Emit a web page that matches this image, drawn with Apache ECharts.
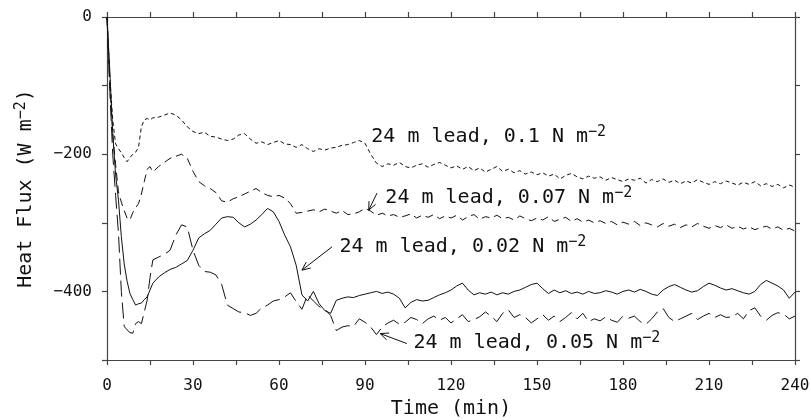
<!DOCTYPE html>
<html>
<head>
<meta charset="utf-8">
<script src="https://cdn.jsdelivr.net/npm/echarts@6/dist/echarts.min.js"></script>
<style>html,body{margin:0;padding:0;background:#fff}#c{width:811px;height:420px}</style>
</head>
<body>
<div id="c"></div>
<script>
const times = [0,1,2,3,4,5,6,7,8,9,10,11,12,13,14,15,16,
18,20,22,24,26,28,30,32,34,36,38,40,42,44,46,48,50,52,54,56,58,60,
62,64,66,68,70,72,74,76,78,80,82,84,86,88,90,92,94,96,98,100,
102,104,106,108,110,112,114,116,118,120,122,124,126,128,130,132,134,136,138,140,
142,144,146,148,150,152,154,156,158,160,162,164,166,168,170,172,174,176,178,180,
182,184,186,188,190,192,194,196,198,200,202,204,206,208,210,212,214,216,218,220,
222,224,226,228,230,232,234,236,238,240];

// 24 m lead, 0.1 N m-2
const flux010 = [0,-90,-150,-185,-192,-198,-205,-211,-205,-200,-197,-190,-160,-150,-148,-150,-147,
-146,-143,-140,-143,-150,-160,-167,-170,-168,-174,-175,-178,-180,-178,-172,-170,-178,-184,-182,-186,-183,-180,
-185,-186,-190,-186,-192,-196,-192,-194,-191,-190,-187,-186,-183,-180,-184,-200,-213,-218,-214,-216,
-212,-218,-220,-216,-214,-219,-215,-212,-216,-220,-217,-222,-218,-224,-220,-226,-222,-218,-225,-222,
-227,-224,-229,-226,-230,-227,-232,-229,-236,-231,-228,-233,-236,-232,-235,-233,-238,-234,-237,-240,
-236,-238,-235,-242,-237,-240,-236,-241,-238,-243,-239,-242,-237,-241,-244,-240,-243,-239,-242,-245,
-241,-244,-240,-246,-243,-247,-244,-249,-245,-248];

// 24 m lead, 0.07 N m-2
const flux007 = [0,-100,-170,-215,-255,-270,-282,-293,-296,-285,-278,-272,-258,-240,-222,-218,-226,
-218,-212,-206,-203,-200,-206,-225,-240,-246,-250,-256,-268,-270,-265,-262,-258,-254,-250,-256,-260,-262,-260,
-264,-272,-286,-285,-283,-281,-284,-280,-283,-286,-282,-288,-287,-284,-279,-283,-289,-286,-290,-288,
-292,-290,-287,-293,-289,-292,-288,-294,-290,-293,-289,-296,-291,-288,-295,-291,-293,-289,-294,-292,
-296,-290,-294,-297,-293,-296,-291,-298,-295,-292,-298,-294,-299,-296,-300,-297,-301,-298,-303,-299,
-302,-298,-304,-300,-303,-306,-301,-305,-302,-307,-303,-306,-301,-305,-308,-304,-307,-303,-308,-305,
-309,-306,-310,-307,-305,-309,-306,-311,-308,-312];

// 24 m lead, 0.02 N m-2
const flux002 = [0,-80,-170,-230,-267,-320,-360,-385,-403,-412,-420,-418,-417,-412,-408,-398,-388,
-379,-373,-368,-365,-360,-355,-340,-322,-316,-311,-302,-293,-291,-292,-300,-306,-302,-296,-288,-279,-284,-298,
-318,-335,-362,-405,-414,-400,-418,-428,-432,-413,-410,-408,-409,-406,-404,-402,-400,-403,-401,-404,
-410,-424,-416,-412,-414,-413,-409,-405,-402,-398,-392,-388,-398,-405,-402,-404,-401,-405,-402,-404,
-400,-398,-394,-390,-388,-396,-403,-398,-402,-399,-403,-401,-404,-400,-403,-402,-399,-401,-404,-400,
-398,-401,-397,-400,-404,-406,-398,-393,-390,-394,-398,-401,-399,-393,-388,-391,-395,-398,-396,-399,
-402,-404,-400,-390,-384,-388,-392,-398,-410,-401];

// 24 m lead, 0.05 N m-2
const flux005 = [0,-110,-200,-260,-315,-400,-451,-456,-460,-461,-447,-444,-447,-430,-413,-380,-354,
-350,-346,-340,-318,-303,-306,-340,-362,-371,-372,-376,-390,-420,-425,-430,-431,-435,-432,-424,-420,-414,-412,
-408,-402,-415,-426,-405,-414,-422,-426,-435,-457,-452,-450,-451,-440,-445,-452,-463,-452,-446,-442,
-448,-445,-438,-441,-447,-440,-436,-442,-438,-446,-440,-434,-444,-441,-437,-430,-436,-444,-432,-427,
-438,-434,-438,-446,-440,-434,-442,-436,-444,-438,-431,-440,-432,-444,-440,-443,-437,-442,-445,-436,
-439,-436,-444,-448,-440,-430,-425,-438,-444,-440,-436,-432,-441,-436,-432,-438,-434,-438,-437,-432,
-440,-428,-424,-436,-442,-435,-431,-433,-440,-436];

const xTicks = [0,30,60,90,120,150,180,210,240];
const yTicks = [0,-200,-400];

// annotations: label text, label anchor (data coords), optional arrow from/to (data coords)
const annLabels = ['24 m lead, 0.1 N m', '24 m lead, 0.07 N m', '24 m lead, 0.02 N m', '24 m lead, 0.05 N m'];
const annAt = [[92.2,-175],[97.1,-264],[81.1,-334.5],[106.9,-475]];
const annArrowFrom = [null,[94.2,-256.6],[78.5,-335],[104.6,-476]];
const annArrowTo = [null,[91.3,-281.5],[68,-369],[95.3,-461.5]];

const MONO = "'DejaVu Sans Mono', monospace";
const INK = '#111';
const AXIS = '#444';

const chart = echarts.init(document.getElementById('c'), null, {renderer:'canvas'});

function mk(arr){ return times.map((t,i)=>[t, arr[i]]); }

const lineBase = {type:'line', showSymbol:false, symbol:'none', animation:false, smooth:false, z:3};

const supRich = {
  m:{fontFamily:MONO, fontSize:20, color:INK, lineHeight:24},
  s:{fontFamily:MONO, fontSize:15, color:INK, lineHeight:15, verticalAlign:'top'}
};

const axisCommon = {
  axisLine:{show:true, onZero:false, lineStyle:{color:AXIS, width:1.2}},
  axisTick:{show:true, inside:false, length:5, lineStyle:{color:AXIS, width:1.2}},
  splitLine:{show:false}
};

function renderAnn(params, api){
  const i = api.value(0);
  const p = api.coord(annAt[i]);
  const children = [{
    type:'text',
    x:p[0], y:p[1],
    style:{
      text:'{m|'+annLabels[i]+'}{s|\u22122}',
      rich:supRich,
      verticalAlign:'middle', align:'left',
      fill:INK
    }
  }];
  if (annArrowFrom[i]) {
    const a = api.coord(annArrowFrom[i]);
    const b = api.coord(annArrowTo[i]);
    const ang = Math.atan2(a[1]-b[1], a[0]-b[0]);
    const L = 9, w = 0.42;
    children.push({type:'line', shape:{x1:a[0],y1:a[1],x2:b[0],y2:b[1]}, style:{stroke:INK, lineWidth:1}});
    children.push({type:'polyline', shape:{points:[
      [b[0]+L*Math.cos(ang+w), b[1]+L*Math.sin(ang+w)],
      [b[0], b[1]],
      [b[0]+L*Math.cos(ang-w), b[1]+L*Math.sin(ang-w)]
    ]}, style:{stroke:INK, lineWidth:1, fill:null}});
  }
  return {type:'group', children};
}

chart.setOption({
  animation:false,
  backgroundColor:'#fff',
  grid:{left:107, right:16, top:17, bottom:60, containLabel:false, outerBoundsMode:'none'},
  xAxis:[
    Object.assign({type:'value', min:0, max:240, interval:15, position:'bottom',
      axisLabel:{show:true, margin:18, fontFamily:MONO, fontSize:16, color:INK,
        formatter:v=> xTicks.indexOf(v)>=0 ? String(v) : ''},
      name:'Time (min)', nameLocation:'middle', nameGap:38,
      nameTextStyle:{fontFamily:MONO, fontSize:20, color:INK}
    }, axisCommon),
    Object.assign({type:'value', min:0, max:240, interval:15, position:'top',
      axisLabel:{show:false}}, axisCommon)
  ],
  yAxis:[
    Object.assign({type:'value', min:-500, max:0, interval:100, position:'left',
      axisLabel:{show:true, margin:15, fontFamily:MONO, fontSize:16, color:INK,
        formatter:v=> yTicks.indexOf(v)>=0 ? (v<0 ? '\u2212'+(-v) : '0') : ''},
      name:'{m|Heat Flux (W m}{s|\u22122}{m|)}', nameLocation:'middle', nameGap:69, nameRotate:90,
      nameTextStyle:{rich:supRich}
    }, axisCommon),
    Object.assign({type:'value', min:-500, max:0, interval:100, position:'right',
      axisLabel:{show:false}}, axisCommon)
  ],
  series:[
    Object.assign({}, lineBase, {name:'0.1', data:mk(flux010), lineStyle:{color:INK, width:1, type:[4,3]}}),
    Object.assign({}, lineBase, {name:'0.07', data:mk(flux007), lineStyle:{color:INK, width:1, type:[8,5]}}),
    Object.assign({}, lineBase, {name:'0.02', data:mk(flux002), lineStyle:{color:INK, width:1, type:'solid'}}),
    Object.assign({}, lineBase, {name:'0.05', data:mk(flux005), lineStyle:{color:INK, width:1, type:[16,6]}}),
    {type:'custom', coordinateSystem:'cartesian2d', renderItem:renderAnn, clip:false, silent:true, z:5,
     data:annLabels.map((_,i)=>[i]), encode:{x:-1, y:-1}}
  ]
});
</script>
</body>
</html>
